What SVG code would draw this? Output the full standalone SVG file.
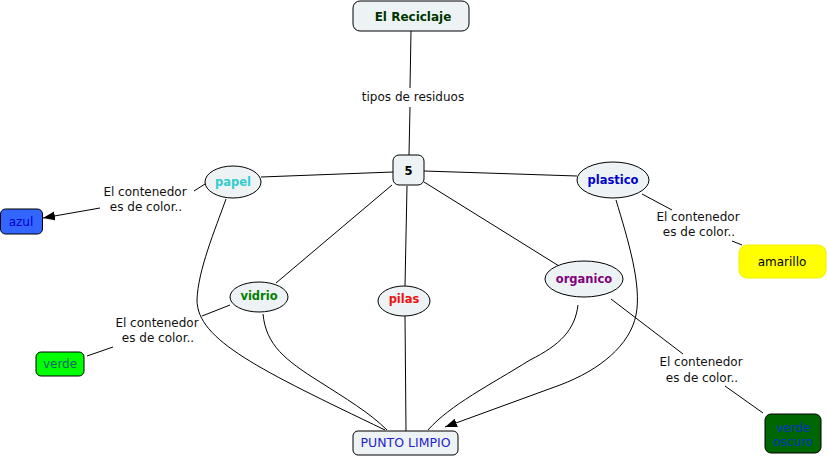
<svg xmlns="http://www.w3.org/2000/svg" width="827" height="458" viewBox="0 0 827 458">
<style>
.n{fill:#edf3f4;stroke:#000;stroke-width:1}
.c{fill:none;stroke:#000;stroke-width:1}
.t{font-family:"DejaVu Sans","Liberation Sans",sans-serif;text-anchor:middle}
.b{font-weight:bold;font-size:11.5px}
.r{font-size:12px}
.l{font-size:12px;fill:#111}
</style>
<defs>
<marker id="ah" markerUnits="userSpaceOnUse" markerWidth="13" markerHeight="10" refX="12" refY="4.5" orient="auto">
<path d="M0,0 L12,4.5 L0,9 z" fill="#000"/>
</marker>
</defs>
<rect width="827" height="458" fill="#fff"/>
<g id="connectors">
<path class="c" d="M411,31 L410,88"/>
<path class="c" d="M410,107 L409,155"/>
<path class="c" d="M261,177 L393,172"/>
<path class="c" d="M424,171 L577,176"/>
<path class="c" d="M392,185 L276,283"/>
<path class="c" d="M407,186 L405,286"/>
<path class="c" d="M424,182 L559,266"/>
<path class="c" d="M405,316 L406,431"/>
<path class="c" d="M226,199 C215,230 198,270 197,300 C197,340 260,370 385,430"/>
<path class="c" d="M263,314 C266,345 285,360 320,382 C345,398 370,413 387,430"/>
<path class="c" d="M578,305 C575,330 560,345 530,360 C490,385 450,405 428,430"/>
<path class="c" d="M616,200 C628,240 642,285 636,315 C630,345 600,370 560,385 L445,427" marker-end="url(#ah)"/>
<path class="c" d="M205,184 L194,191"/>
<path class="c" d="M100,208 L43,218" marker-end="url(#ah)"/>
<path class="c" d="M230,305 L202,316"/>
<path class="c" d="M113,347 L87,356"/>
<path class="c" d="M642,194 L672,210"/>
<path class="c" d="M732,241 L742,245"/>
<path class="c" d="M611,299 L683,354"/>
<path class="c" d="M725,386 L763,413"/>
<text class="t l" x="413" y="101">tipos de residuos</text>
<text class="t l" x="145" y="196">El contenedor</text>
<text class="t l" x="146" y="211">es de color..</text>
<text class="t l" x="157" y="327">El contenedor</text>
<text class="t l" x="158" y="342">es de color..</text>
<text class="t l" x="698" y="221">El contenedor</text>
<text class="t l" x="699" y="236">es de color..</text>
<text class="t l" x="701" y="366">El contenedor</text>
<text class="t l" x="702" y="382">es de color..</text>
</g>
<g id="el-reciclaje">
<rect class="n" x="353" y="1" width="116" height="30" rx="7"/>
<text class="t b" x="413" y="21" fill="#003300" style="font-size:12px">El Reciclaje</text>
</g>
<g id="cinco">
<rect class="n" x="393" y="155" width="31" height="30" rx="6"/>
<text class="t b" x="408.5" y="175" fill="#000">5</text>
</g>
<g id="papel">
<ellipse class="n" cx="233" cy="182" rx="28" ry="16"/>
<text class="t b" x="233" y="186" fill="#33cccc">papel</text>
</g>
<g id="plastico">
<ellipse class="n" cx="613" cy="180" rx="36" ry="18"/>
<text class="t b" x="613" y="184" fill="#0000cc">plastico</text>
</g>
<g id="vidrio">
<ellipse class="n" cx="259" cy="297" rx="29" ry="15"/>
<text class="t b" x="259" y="300" fill="#008000">vidrio</text>
</g>
<g id="pilas">
<ellipse class="n" cx="404" cy="301" rx="26" ry="15"/>
<text class="t b" x="404" y="303" fill="#ee1111">pilas</text>
</g>
<g id="organico">
<ellipse class="n" cx="584" cy="279" rx="39" ry="18"/>
<text class="t b" x="584" y="283" fill="#800080">organico</text>
</g>
<g id="punto-limpio">
<rect class="n" x="353" y="431" width="105" height="24" rx="5"/>
<text class="t" x="405.5" y="447" fill="#2222cc" style="font-size:12.5px">PUNTO LIMPIO</text>
</g>
<g id="azul">
<rect x="0.5" y="209" width="42" height="25" rx="5" fill="#3366ff" stroke="#000"/>
<text class="t r" x="21" y="226" fill="#0000cc">azul</text>
</g>
<g id="verde">
<rect x="36" y="352" width="48" height="24" rx="5" fill="#00ff00" stroke="#000"/>
<text class="t r" x="60" y="368" fill="#006666">verde</text>
</g>
<g id="amarillo">
<rect x="739" y="245" width="87" height="33" rx="8" fill="#ffff00" stroke="#f0f000"/>
<text class="t r" x="782" y="266" fill="#000">amarillo</text>
</g>
<g id="verde-oscuro">
<rect x="765" y="414" width="56" height="39" rx="6" fill="#006600" stroke="#000"/>
<text class="t r" x="793" y="432" fill="#0033cc">verde</text>
<text class="t r" x="793" y="446" fill="#0033cc">oscuro</text>
</g>
</svg>
